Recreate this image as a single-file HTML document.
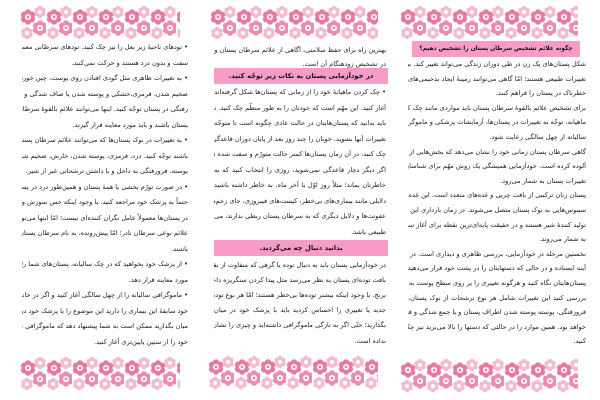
<!DOCTYPE html>
<html><head><meta charset="utf-8">
<style>
html,body{margin:0;padding:0;background:#fff;}
body{width:600px;height:400px;position:relative;overflow:hidden;font-family:"DejaVu Sans",sans-serif;color:#222;}
.l{position:absolute;height:14px;line-height:14px;font-size:6.6px;direction:rtl;text-align:justify;text-align-last:justify;white-space:nowrap;overflow:hidden;}
.e{text-align-last:right;text-align:right;}
.h{position:absolute;height:16px;line-height:16px;background:#f79cc6;font-size:6.8px;font-weight:bold;direction:rtl;text-align:center;color:#111;white-space:nowrap;overflow:hidden;}
svg.f{position:absolute;}
</style></head><body>
<svg width="0" height="0" style="position:absolute">
<defs>
<g id="big">
<circle cx="0" cy="-4.5" r="3.2"/><circle cx="3.9" cy="-2.25" r="3.2"/><circle cx="3.9" cy="2.25" r="3.2"/>
<circle cx="0" cy="4.5" r="3.2"/><circle cx="-3.9" cy="2.25" r="3.2"/><circle cx="-3.9" cy="-2.25" r="3.2"/>
</g>
<g id="sm">
<circle cx="0" cy="-3.6" r="2.6"/><circle cx="3.1" cy="-1.8" r="2.6"/><circle cx="3.1" cy="1.8" r="2.6"/>
<circle cx="0" cy="3.6" r="2.6"/><circle cx="-3.1" cy="1.8" r="2.6"/><circle cx="-3.1" cy="-1.8" r="2.6"/>
</g>
<pattern id="fl" width="26" height="34" patternUnits="userSpaceOnUse">
<use href="#sm" x="20" y="6" fill="#f4bcd2"/>
<circle cx="20" cy="6" r="2" fill="#fff"/>
<use href="#big" x="8" y="11" fill="#e77aa5"/>
<circle cx="8" cy="11" r="3" fill="#fff"/>
<circle cx="8" cy="11" r="1.4" fill="#e77aa5"/>
<use href="#big" x="20" y="22" fill="#eb8db2"/>
<circle cx="20" cy="22" r="3" fill="#fff"/>
<circle cx="20" cy="22" r="1.3" fill="#e77aa5"/>
<use href="#sm" x="7" y="27" fill="#f4bcd2"/>
<circle cx="7" cy="27" r="2" fill="#fff"/>
</pattern>
</defs></svg>
<svg class="f" style="left:20px;top:6px" width="160" height="34"><rect width="160" height="34" fill="url(#fl)"/></svg>
<svg class="f" style="left:210px;top:6px" width="168" height="34"><rect width="168" height="34" fill="url(#fl)"/></svg>
<svg class="f" style="left:400px;top:6px" width="178" height="34"><rect width="178" height="34" fill="url(#fl)"/></svg>
<svg class="f" style="left:20px;top:357px" width="160" height="34"><rect width="160" height="34" fill="url(#fl)"/></svg>
<svg class="f" style="left:208px;top:356px" width="170" height="34"><rect width="170" height="34" fill="url(#fl)"/></svg>
<svg class="f" style="left:400px;top:359px" width="178" height="34"><rect width="178" height="34" fill="url(#fl)"/></svg>

<!-- LEFT column -->
<div class="l" style="left:22px;width:166px;top:40px">• تودهای ناحیهٔ زیر بغل را نیز چک کنید. تودهای سرطانی معمولاً</div>
<div class="l e" style="left:22px;width:166px;top:55.5px">سفت و بدون درد هستند و حرکت نمی‌کنند.</div>
<div class="l" style="left:22px;width:166px;top:71px">• به تغییرات ظاهری مثل گودی افتادن روی پوست، چین خوردگی،</div>
<div class="l" style="left:22px;width:166px;top:86.5px">ضخیم شدن، قرمزی،خشکی و پوسته شدن یا صاف شدگی و فرو</div>
<div class="l" style="left:22px;width:166px;top:102px">رفتگی در پستان توجّه کنید. اینها می‌توانند علائم بالقوهٔ سرطان</div>
<div class="l e" style="left:22px;width:166px;top:117.5px">پستان باشند و باید مورد معاینه قرار گیرند.</div>
<div class="l" style="left:22px;width:166px;top:133px">• به تغییرات در نوک پستان‌ها که می‌توانند علائم سرطان پستان</div>
<div class="l" style="left:22px;width:166px;top:148.5px">باشند توجّه کنید. درد، قرمزی، پوسته شدن، خارش، ضخیم شدن</div>
<div class="l e" style="left:22px;width:166px;top:164px">پوسته، فرورفتگی به داخل و یا داشتن ترشحاتی غیر از شیر.</div>
<div class="l" style="left:22px;width:166px;top:179.5px">• در صورت تورّم بخشی یا همهٔ پستان و همین‌طور درد در پستان‌ها،</div>
<div class="l" style="left:22px;width:166px;top:195px">حتماً به پزشک خود مراجعه کنید. با وجود اینکه حس سوزش و تورّم</div>
<div class="l" style="left:22px;width:166px;top:210.5px">در پستان‌ها معمولاً عامل نگران کننده‌ای نیست؛ امّا اینها می‌توانند</div>
<div class="l" style="left:22px;width:166px;top:226px">علائم نوعی سرطان نادر؛ امّا پیش‌رونده، به نام سرطان پستان التهابی</div>
<div class="l e" style="left:22px;width:166px;top:241.5px">باشند.</div>
<div class="l" style="left:22px;width:166px;top:257px">• از پزشک خود بخواهید که در چک سالیانه، پستان‌های شما را</div>
<div class="l e" style="left:22px;width:166px;top:272.5px">مورد معاینه قرار دهد.</div>
<div class="l" style="left:22px;width:166px;top:288px">• ماموگرافی سالیانه را از چهل سالگی آغاز کنید و اگر در خانوادهٔ</div>
<div class="l" style="left:22px;width:166px;top:303.5px">خود سابقهٔ این بیماری را دارید این موضوع را با پزشک خود در</div>
<div class="l" style="left:22px;width:166px;top:319px">میان بگذارید ممکن است به شما پیشنهاد دهد که ماموگرافی سالیانهٔ</div>
<div class="l e" style="left:22px;width:166px;top:334.5px">خود را از سنین پایین‌تری آغاز کنید.</div>

<!-- MIDDLE column -->
<div class="l" style="left:214px;width:172px;top:43px">بهترین راه برای حفظ سلامتی، آگاهی از علائم سرطان پستان و فعّال بودن</div>
<div class="l e" style="left:214px;width:172px;top:57px">در تشخیص زودهنگام آن است.</div>
<div class="h" style="left:214px;width:174px;top:68px">در خودآزمایی پستان به نکات زیر توجّه کنید.</div>
<div class="l" style="left:214px;width:172px;top:85px">• چک کردن ماهیانهٔ خود را از زمانی که پستان‌ها شکل گرفته‌اند،</div>
<div class="l" style="left:214px;width:172px;top:100.5px">آغاز کنید. این مهّم است که خودتان را به طور منظّم چک کنید. شما</div>
<div class="l" style="left:214px;width:172px;top:116px">باید بدانید که پستان‌هایتان در حالت عادی چگونه است تا متوجّه</div>
<div class="l" style="left:214px;width:172px;top:131.5px">تغییرات آنها بشوید. خوبان را چند روز بعد از پایان دوران قاعدگی</div>
<div class="l" style="left:214px;width:172px;top:147px">چک کنید، در آن زمان پستان‌ها کمتر حالت متورّم و سفت شده دارند.</div>
<div class="l" style="left:214px;width:172px;top:162.5px">اگر دیگر دچار قاعدگی نمی‌شوید، روزی را انتخاب کنید که به</div>
<div class="l" style="left:214px;width:172px;top:178px">خاطرتان بماند؛ مثلاً روز اوّل یا آخر ماه. به خاطر داشته باشید</div>
<div class="l" style="left:214px;width:172px;top:193.5px">دلایلی مانند بیماری‌های بی‌خطر، کیست‌های فیبروزی، جای زخم‌ها،</div>
<div class="l" style="left:214px;width:172px;top:209px">عفونت‌ها و دلایل دیگری که به سرطان پستان ربطی ندارند، می‌توانند</div>
<div class="l e" style="left:214px;width:172px;top:224.5px">طبیعی باشد.</div>
<div class="h" style="left:214px;width:174px;top:240px">بدانید دنبال چه می‌گردید.</div>
<div class="l" style="left:214px;width:172px;top:258px">در خودآزمایی پستان باید به دنبال توده یا گرهی که متفاوت از بقیهٔ</div>
<div class="l" style="left:214px;width:172px;top:273px">بافت توده‌ای پستان به نظر می‌رسد مثل پیدا کردن سنگریزه داخل</div>
<div class="l" style="left:214px;width:172px;top:288px">برنج. با وجود اینکه بیشتر توده‌ها بی‌خطر هستند؛ امّا هر نوع تودهٔ</div>
<div class="l" style="left:214px;width:172px;top:303px">جدید یا تغییری را احساس کردید باید با پزشک خود در میان</div>
<div class="l" style="left:214px;width:172px;top:318px">بگذارید؛ حتّی اگر به تازگی ماموگرافی داشته‌اید و چیزی را نشان</div>
<div class="l e" style="left:214px;width:172px;top:334px">نداده است.</div>

<!-- RIGHT column -->
<div class="h" style="left:412px;width:168px;top:41px;font-size:5.8px">چگونه علائم تشخیص سرطان پستان را تشخیص دهیم؟</div>
<div class="l" style="left:408px;width:178px;top:57px">شکل پستان‌های یک زن در طی دوران زندگی می‌تواند تغییر کند. بیشتر این</div>
<div class="l" style="left:408px;width:178px;top:71.6px">تغییرات طبیعی هستند؛ امّا گاهی می‌توانند زمینهٔ ایجاد بدخیمی‌های</div>
<div class="l e" style="left:408px;width:178px;top:86.2px">خطرناک در پستان را فراهم کنند.</div>
<div class="l" style="left:408px;width:178px;top:100.8px">برای تشخیص علائم بالقوهٔ سرطان پستان باید مواردی مانند چک کردن</div>
<div class="l" style="left:408px;width:178px;top:115.4px">ماهیانه، توجّه به تغییرات در پستان‌ها، آزمایشات پزشکی و ماموگرافی</div>
<div class="l e" style="left:408px;width:178px;top:130px">سالیانه از چهل سالگی رعایت شود.</div>
<div class="l" style="left:408px;width:178px;top:144.6px">گاهی سرطان پستان زمانی خود را نشان می‌دهد که بخش‌هایی از بدن را</div>
<div class="l" style="left:408px;width:178px;top:159.2px">آلوده کرده است. خودآزمایی همیشگی یک روش مهّم برای شناسایی</div>
<div class="l e" style="left:408px;width:178px;top:173.8px">تغییرات پستان به شمار می‌رود.</div>
<div class="l" style="left:408px;width:178px;top:188.4px">پستان زنان ترکیبی از بافت چربی و غده‌های متعدد است. این غده‌ها توسط</div>
<div class="l" style="left:408px;width:178px;top:203px">سینوس‌هایی به نوک پستان متصل می‌شوند. در زمان بارداری این غده‌ها</div>
<div class="l" style="left:408px;width:178px;top:217.6px">تولید کنندهٔ شیر هستند و در حقیقت پایه‌ای‌ترین نقطه برای آغاز سرطان</div>
<div class="l e" style="left:408px;width:178px;top:232.2px">به شمار می‌روند.</div>
<div class="l" style="left:408px;width:178px;top:246.8px">نخستین مرحله در خودآزمایی، بررسی ظاهری و دیداری است. در مقابل</div>
<div class="l" style="left:408px;width:178px;top:261.4px">آینه ایستاده و در حالی که دستهایتان را در پشت خود قرار می‌دهید به</div>
<div class="l" style="left:408px;width:178px;top:276px">پستان‌هایتان نگاه کنید و هرگونه تغییری را بر روی سطح پوست به دقّت</div>
<div class="l" style="left:408px;width:178px;top:290.6px">بررسی کنید این تغییرات شامل هر نوع ترشحات از نوک پستان،</div>
<div class="l" style="left:408px;width:178px;top:305.2px">فرورفتگی، پوسته پوسته شدن اطراف پستان و یا جمع شدگی و فرورفتگی</div>
<div class="l" style="left:408px;width:178px;top:319.8px">خواهد بود. همین موارد را در حالتی که دستها را بالا می‌برید نیز چک</div>
<div class="l e" style="left:408px;width:178px;top:334.4px">کنید.</div>
</body></html>
